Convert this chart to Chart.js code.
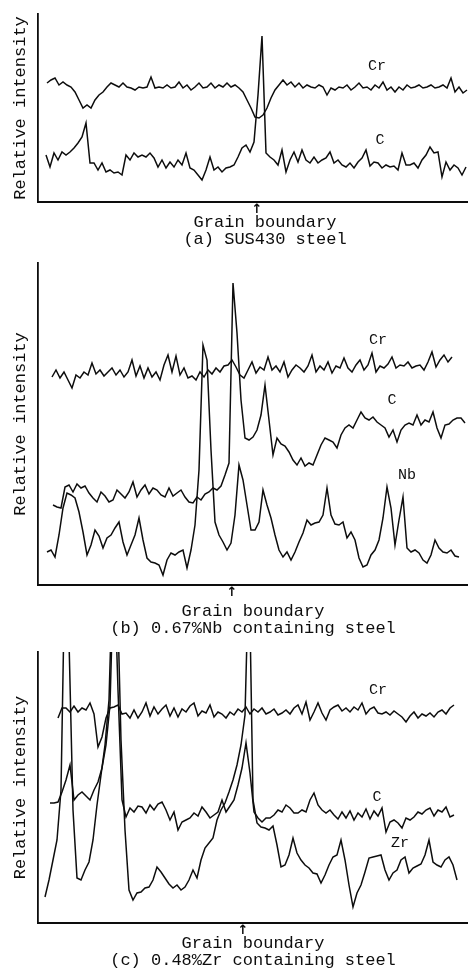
<!DOCTYPE html>
<html>
<head>
<meta charset="utf-8">
<script src="https://cdn.jsdelivr.net/npm/chart.js@4.4.1/dist/chart.umd.min.js"></script>
<style>
  html, body { margin: 0; padding: 0; background: #fff; overflow: hidden; width: 468px; height: 969px; }
  canvas { position: absolute; left: 0; }
</style>
</head>
<body>
<canvas id="graficoA" width="492" height="250" style="top:0"></canvas>
<canvas id="graficoB" width="468" height="390" style="top:250px"></canvas>
<canvas id="graficoC" width="468" height="329" style="top:640px"></canvas>
<script>
// Paso de muestreo (distancia entre lecturas, unidades arbitrarias)
const PASO = 4;

// (a) SUS430 steel
const crA = [119,122,124,117,120,117,115,110,102,94, 97,94,102,107,110,115,119,117,115,119,
  115,114,112,115,114,115,125,114,115,114, 117,114,115,120,114,117,112,115,119,114,
  115,119,114,117,115,119,115,117,114,110, 102,94,85,84,87,94,104,112,117,122,
  117,120,115,119,114,117,115,114,117,115, 107,114,112,115,114,117,112,115,119,114,
  115,112,117,114,120,112,115,110,115,112, 117,114,115,117,114,115,117,114,115,117,
  114,124,110,115,109,112];
const cA = [47,35,49,42,50,47,50,54,59,65, 79,39,39,32,39,30,32,29,30,27,
  47,42,49,45,47,45,49,44,35,42, 34,40,35,42,37,49,34,32,27,22,
  32,45,32,35,30,34,35,37,45,54, 57,50,60,107,166,
  49,45,42,37,52,30,42,50,40,52, 42,39,45,39,42,44,50,39,42,37,
  35,39,34,40,44,52,36,40,39,34, 37,35,36,32,49,37,37,39,34,42,
  47,55,49,50,25,40,32,37,34,27, 35];

// (b) 0.67%Nb containing steel
const crB = [208,215,207,213,205,197,210,207,213,210, 222,211,215,209,213,217,210,215,208,213,
  225,209,219,207,217,208,213,205,220,230, 213,229,210,217,207,209,205,213,208,215,
  211,217,213,219,220,225,218,210,207,215, 223,212,218,215,228,215,219,213,223,208,
  215,220,217,213,219,230,213,219,215,223, 212,219,217,227,217,213,220,225,215,220,
  232,213,219,217,221,228,217,220,219,223, 217,219,220,215,223,233,218,225,230,223,
  228];
const cB = [80,78,77,98,100,93,101,97,99,92, 87,83,93,89,83,85,95,91,87,93,
  103,88,95,100,91,97,95,90,88,97, 89,92,95,88,83,82,88,85,91,93,
  97,95,99,110,122,302,252,185,147,145, 148,155,170,200,165,130,147,141,139,133,
  125,120,127,119,122,120,130,140,147,145, 143,137,150,157,160,157,165,173,167,165,
  168,163,160,157,148,155,143,155,160,162, 160,170,160,165,163,173,157,147,160,161,
  165,167,167,162];
const nbB = [33,35,28,50,77,92,90,87,73,53, 30,40,55,49,37,47,50,57,63,43,
  30,40,50,67,45,27,23,22,20,10, 25,32,30,33,35,17,35,60,115,240,
  225,135,63,50,43,35,42,70,120,105, 80,55,55,63,95,80,67,50,35,28,
  33,25,33,43,52,65,60,62,63,70, 97,70,61,60,63,47,53,45,27,18,
  20,30,35,45,67,98,77,40,65,88, 37,33,35,32,25,22,30,45,37,33,
  32,35,29,28];

// (c) 0.48%Zr containing steel
const crC = [205,215,215,211,217,211,215,213,220,209, 176,186,205,215,216,218,209,210,205,213,
  205,211,220,207,216,209,214,218,207,215, 206,214,211,217,220,207,212,210,218,206,
  211,209,205,211,208,214,211,216,209,214, 211,215,209,211,214,208,210,213,209,215,
  218,209,221,203,211,220,210,203,213,216, 218,212,215,211,216,213,220,209,214,216,
  210,209,211,208,212,209,206,201,207,211, 205,209,207,210,206,211,213,209,215,218];
const cC = [120,120,121,131,143,158,123,128,131,127, 123,133,141,155,178,218,363,233,123,106,
  115,111,117,116,110,118,113,119,121,113, 103,111,93,101,103,105,110,107,116,111,
  105,108,111,123,111,117,123,138,155,180, 150,111,105,101,105,105,108,113,111,118,
  115,110,110,113,111,123,130,118,113,110, 113,108,104,111,105,112,103,110,106,114,
  104,112,107,115,91,101,103,100,95,105, 103,106,111,109,113,115,107,113,111,116,
  106,108];
const zrC = [26,43,63,83,133,363,283,113,45,43, 53,61,83,118,148,178,223,363,343,183,
  93,33,23,30,31,35,36,43,56,51, 45,39,35,38,33,36,43,53,45,63,
  75,80,85,103,113,120,131,143,158,178, 208,363,123,100,96,95,93,97,78,56,
  58,68,85,70,63,58,55,50,49,40, 48,58,66,68,83,63,38,16,30,38,
  51,65,66,67,68,53,43,50,53,63, 66,50,55,57,59,68,83,61,58,56,
  63,66,58,43];

const TINTA = '#0d0d0d';
const FUENTE = "'Liberation Mono', 'Courier New', monospace";

// Nombres de los elementos junto a cada curva
const etiquetasPlugin = {
    id: 'etiquetas',
    afterDatasetsDraw(chart, args, opts) {
        const { ctx, scales: { x, y } } = chart;
        ctx.save();
        ctx.font = '15px ' + FUENTE;
        ctx.fillStyle = TINTA;
        ctx.textAlign = 'center';
        ctx.textBaseline = 'middle';
        (opts.items || []).forEach(e => {
            ctx.fillText(e.texto, x.getPixelForValue(e.x), y.getPixelForValue(e.y));
        });
        ctx.restore();
    }
};

function crearPanel(id, cfg) {
    const ctx = document.getElementById(id).getContext('2d');
    return new Chart(ctx, {
        type: 'line',
        data: {
            datasets: cfg.series.map(s => ({
                data: s.valores.map((v, i) => ({ x: s.inicio + i * PASO, y: v })),
                borderColor: TINTA,
                borderWidth: 1.5,
                pointRadius: 0,
                tension: 0,
                fill: false
            }))
        },
        options: {
            responsive: false,
            animation: false,
            layout: { padding: { top: cfg.margenSup, left: 0, right: 0, bottom: 0 } },
            plugins: {
                legend: { display: false },
                tooltip: { enabled: false },
                etiquetas: { items: cfg.etiquetas }
            },
            scales: {
                x: {
                    type: 'linear',
                    min: 0,
                    max: cfg.xMax,
                    grid: { display: false, drawTicks: false },
                    border: { display: true, color: TINTA, width: 2 },
                    ticks: {
                        padding: 0,
                        color: TINTA,
                        font: { family: 'DejaVu Sans', size: 13, weight: 'bold' },
                        callback: () => '\u2191'
                    },
                    afterBuildTicks: s => { s.ticks = [{ value: cfg.limiteGrano }]; },
                    afterFit: s => { s.height = cfg.altoX; },
                    title: {
                        display: true,
                        text: ['Grain boundary', cfg.titulo],
                        color: TINTA,
                        font: { family: FUENTE, size: 17, lineHeight: 1 },
                        padding: { top: 0, bottom: cfg.padTitulo }
                    }
                },
                y: {
                    min: 0,
                    max: cfg.yMax,
                    grid: { display: false, drawTicks: false },
                    ticks: { display: false },
                    border: { display: true, color: TINTA, width: 1.8 },
                    afterFit: s => { s.width = 38; },
                    title: {
                        display: true,
                        text: 'Relative intensity',
                        color: TINTA,
                        font: { family: FUENTE, size: 17, lineHeight: 1 },
                        padding: { top: 12, bottom: 0 }
                    }
                }
            }
        },
        plugins: [etiquetasPlugin]
    });
}

function inicializar() {
    crearPanel('graficoA', {
        series: [{ valores: crA, inicio: 9 }, { valores: cA, inicio: 8 }],
        etiquetas: [{ texto: 'Cr', x: 339, y: 136 }, { texto: 'C', x: 342, y: 62 }],
        titulo: '(a) SUS430 steel',
        limiteGrano: 219, xMax: 454, yMax: 188,
        margenSup: 14, altoX: 48, padTitulo: 2.5
    });
    crearPanel('graficoB', {
        series: [{ valores: crB, inicio: 14 }, { valores: cB, inicio: 15 }, { valores: nbB, inicio: 9 }],
        etiquetas: [{ texto: 'Cr', x: 340, y: 245 }, { texto: 'C', x: 354, y: 185 }, { texto: 'Nb', x: 369, y: 110 }],
        titulo: '(b) 0.67%Nb containing steel',
        limiteGrano: 194, xMax: 430, yMax: 322,
        margenSup: 13, altoX: 55, padTitulo: 3.5
    });
    crearPanel('graficoC', {
        series: [{ valores: crC, inicio: 20 }, { valores: cC, inicio: 12 }, { valores: zrC, inicio: 7 }],
        etiquetas: [{ texto: 'Cr', x: 340, y: 233 }, { texto: 'C', x: 339, y: 126 }, { texto: 'Zr', x: 362, y: 80 }],
        titulo: '(c) 0.48%Zr containing steel',
        limiteGrano: 205, xMax: 430, yMax: 271,
        margenSup: 12, altoX: 46, padTitulo: 0
    });
}

document.addEventListener('DOMContentLoaded', inicializar);
</script>
</body>
</html>
